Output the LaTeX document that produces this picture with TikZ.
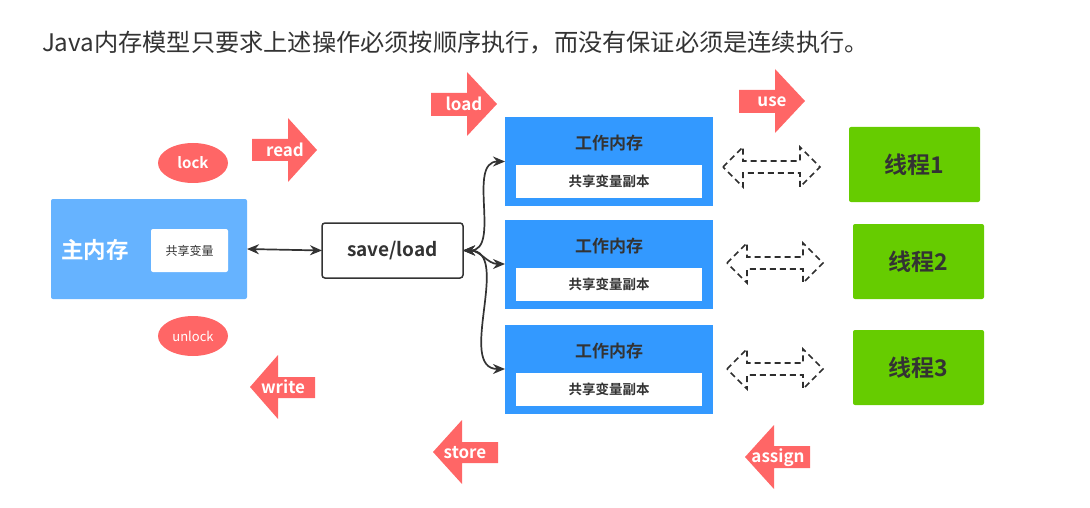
\documentclass[tikz,border=0pt]{standalone}
\usepackage{fontspec}
\setmainfont{Noto Sans CJK SC}[BoldFont={* Bold}]
\usetikzlibrary{arrows.meta,shapes.geometric}

\definecolor{opred}{HTML}{FF6666}
\definecolor{mainblue}{HTML}{66B3FF}
\definecolor{workblue}{HTML}{3399FF}
\definecolor{threadgreen}{HTML}{66CC00}
\definecolor{inkgray}{HTML}{333333}

\newcommand{\fs}[1]{\fontsize{#1}{#1}\selectfont}

\begin{document}
\begin{tikzpicture}[x=1pt, y=-1pt]
\tikzset{ >={Stealth[length=12pt,width=10pt]}, inner sep=0pt, outer sep=0pt,
  membox/.style   ={fill=mainblue, rounded corners=2pt, minimum width=196pt, minimum height=100pt},
  workbox/.style  ={fill=workblue, minimum width=208pt, minimum height=89pt},
  copybox/.style  ={fill=white, minimum width=186pt, minimum height=33pt, text=inkgray, font=\bfseries\fs{13.5}},
  worktitle/.style={text=inkgray, font=\bfseries\fs{17}},
  threadbox/.style={fill=threadgreen, rounded corners=2pt, minimum width=131pt, minimum height=75pt, text=inkgray, font=\bfseries\fs{23}},
  opoval/.style   ={ellipse, fill=opred, minimum width=70pt, minimum height=40pt, text=white},
  oplabel/.style  ={text=white, font=\bfseries\fs{17}},
  swap/.style     ={draw=inkgray!90!black, line width=1.7pt, dash pattern=on 6pt off 4pt},
}

\useasboundingbox (0,0) rectangle (1090,508);

\node [anchor=west, text=inkgray, font=\fs{24.2}] (title) at (42,43) {Java内存模型只要求上述操作必须按顺序执行，而没有保证必须是连续执行。};

% main memory
\node [membox] (mainmem) at (149,249) {};
\node [text=white, font=\bfseries\fs{22.5}] (mainlabel) at (95,250) {主内存};
\node [fill=white, rounded corners=2pt, minimum width=77pt, minimum height=43pt, text=inkgray, font=\fs{12}] (sharedvar) at (189.5,250.5) {共享变量};

\node [opoval, font=\bfseries\fs{15}] (lock)   at (193,163) {lock};
\node [opoval, font=\fs{13}]         (unlock) at (193,336) {unlock};

% save/load
\node [draw=inkgray, line width=1.5pt, fill=white, rounded corners=3pt, minimum width=141pt, minimum height=55pt, text=inkgray, font=\bfseries\fs{19}] (saveload) at (392.5,250.5) {save/load};

% working memory
\node [workbox] (work1) at (609,161.5) {};
\node [workbox] (work2) at (609,264)   {};
\node [workbox] (work3) at (609,369)   {};
\node [worktitle] (wtitle1) at (609,143) {工作内存};
\node [worktitle] (wtitle2) at (609,246) {工作内存};
\node [worktitle] (wtitle3) at (609,351) {工作内存};
\node [copybox] (copy1) at (609,181.5) {共享变量副本};
\node [copybox] (copy2) at (609,284)   {共享变量副本};
\node [copybox] (copy3) at (609,389)   {共享变量副本};

% threads
\node [threadbox] (thread1) at (914.5,164.5) {线程1};
\node [threadbox] (thread2) at (918.5,261.5) {线程2};
\node [threadbox] (thread3) at (918.5,367.5) {线程3};

% connectors
\draw [<->, inkgray, line width=1.7pt] (mainmem.east) -- (saveload.west);
\draw [<->, inkgray, line width=1.7pt] (saveload.east) to[out=0, in=180] (work1.west);
\draw [<->, inkgray, line width=1.7pt] (saveload.east) to[out=0, in=180] (work2.west);
\draw [<->, inkgray, line width=1.7pt] (saveload.east) to[out=0, in=180] (work3.west);

% dashed exchange arrows
\draw [swap] (723,167) -- ++(20,-20) -- ++(0,14) -- ++(57,0) -- ++(0,-14) -- ++(20,20) -- ++(-20,20) -- ++(0,-14) -- ++(-57,0) -- ++(0,14) -- cycle;
\draw [swap] (727,263) -- ++(20,-20) -- ++(0,14) -- ++(56,0) -- ++(0,-14) -- ++(20,20) -- ++(-20,20) -- ++(0,-14) -- ++(-56,0) -- ++(0,14) -- cycle;
\draw [swap] (727,369) -- ++(20,-20) -- ++(0,14) -- ++(56,0) -- ++(0,-14) -- ++(20,20) -- ++(-20,20) -- ++(0,-14) -- ++(-56,0) -- ++(0,14) -- cycle;

% operation arrows
\fill [opred] (317,150) -- ++(-29,-32) -- ++(0,21) -- ++(-36,0) -- ++(0,22) -- ++(36,0) -- ++(0,21) -- cycle;
\fill [opred] (497,104) -- ++(-30,-32) -- ++(0,21) -- ++(-36,0) -- ++(0,23) -- ++(36,0) -- ++(0,20) -- cycle;
\fill [opred] (805,101) -- ++(-30,-32) -- ++(0,21) -- ++(-36,0) -- ++(0,23) -- ++(36,0) -- ++(0,20) -- cycle;
\fill [opred] (250,387) -- ++(28,-32) -- ++(0,22) -- ++(37,0) -- ++(0,21) -- ++(-37,0) -- ++(0,21) -- cycle;
\fill [opred] (433,452) -- ++(29,-32) -- ++(0,22) -- ++(36,0) -- ++(0,21) -- ++(-36,0) -- ++(0,21) -- cycle;
\fill [opred] (745,457) -- ++(29,-32) -- ++(0,21) -- ++(36,0) -- ++(0,22) -- ++(-36,0) -- ++(0,21) -- cycle;

\node [oplabel] (read)   at (285,150) {read};
\node [oplabel] (load)   at (464,104) {load};
\node [oplabel] (use)    at (772,102) {use};
\node [oplabel] (write)  at (283,387) {write};
\node [oplabel] (store)  at (465,453) {store};
\node [oplabel] (assign) at (778,458) {assign};
\end{tikzpicture}
\end{document}
